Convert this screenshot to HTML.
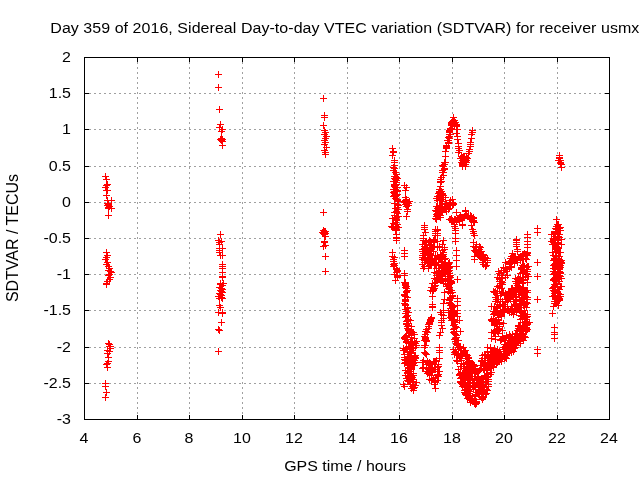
<!DOCTYPE html>
<html><head><meta charset="utf-8"><style>html,body{margin:0;padding:0;background:#fff;overflow:hidden}svg{display:block}</style></head>
<body><svg width="640" height="480" viewBox="0 0 640 480">
<rect width="640" height="480" fill="#fff"/>
<path d="M137.5 419V57M189.5 419V57M242.5 419V57M294.5 419V57M347.5 419V57M399.5 419V57M452.5 419V57M504.5 419V57M557.5 419V57M84 93.5H610M84 129.5H610M84 166.5H610M84 202.5H610M84 238.5H610M84 274.5H610M84 310.5H610M84 347.5H610M84 383.5H610" stroke="#a0a0a0" stroke-width="1" stroke-dasharray="2 3" fill="none" shape-rendering="crispEdges"/>
<path d="M84.5 420v-5M84.5 57v5M137.5 420v-5M137.5 57v5M189.5 420v-5M189.5 57v5M242.5 420v-5M242.5 57v5M294.5 420v-5M294.5 57v5M347.5 420v-5M347.5 57v5M399.5 420v-5M399.5 57v5M452.5 420v-5M452.5 57v5M504.5 420v-5M504.5 57v5M557.5 420v-5M557.5 57v5M609.5 420v-5M609.5 57v5M84 57.5h5M610 57.5h-5M84 93.5h5M610 93.5h-5M84 129.5h5M610 129.5h-5M84 166.5h5M610 166.5h-5M84 202.5h5M610 202.5h-5M84 238.5h5M610 238.5h-5M84 274.5h5M610 274.5h-5M84 310.5h5M610 310.5h-5M84 347.5h5M610 347.5h-5M84 383.5h5M610 383.5h-5M84 419.5h5M610 419.5h-5M84.5 57.5H609.5V419.5H84.5Z" stroke="#000" stroke-width="1" fill="none" shape-rendering="crispEdges"/>
<g font-family="'Liberation Sans', sans-serif" font-size="16" fill="#000" style="will-change:transform"><text transform="translate(71 62) scale(1 0.97)" text-anchor="end">2</text><text transform="translate(71 98) scale(1 0.97)" text-anchor="end">1.5</text><text transform="translate(71 134) scale(1 0.97)" text-anchor="end">1</text><text transform="translate(71 171) scale(1 0.97)" text-anchor="end">0.5</text><text transform="translate(71 207) scale(1 0.97)" text-anchor="end">0</text><text transform="translate(71 243) scale(1 0.97)" text-anchor="end">-0.5</text><text transform="translate(71 279) scale(1 0.97)" text-anchor="end">-1</text><text transform="translate(71 315) scale(1 0.97)" text-anchor="end">-1.5</text><text transform="translate(71 352) scale(1 0.97)" text-anchor="end">-2</text><text transform="translate(71 388) scale(1 0.97)" text-anchor="end">-2.5</text><text transform="translate(71 424) scale(1 0.97)" text-anchor="end">-3</text><text transform="translate(84 443) scale(1 0.97)" text-anchor="middle">4</text><text transform="translate(137 443) scale(1 0.97)" text-anchor="middle">6</text><text transform="translate(189 443) scale(1 0.97)" text-anchor="middle">8</text><text transform="translate(242 443) scale(1 0.97)" text-anchor="middle">10</text><text transform="translate(294 443) scale(1 0.97)" text-anchor="middle">12</text><text transform="translate(347 443) scale(1 0.97)" text-anchor="middle">14</text><text transform="translate(399 443) scale(1 0.97)" text-anchor="middle">16</text><text transform="translate(452 443) scale(1 0.97)" text-anchor="middle">18</text><text transform="translate(504 443) scale(1 0.97)" text-anchor="middle">20</text><text transform="translate(557 443) scale(1 0.97)" text-anchor="middle">22</text><text transform="translate(609 443) scale(1 0.97)" text-anchor="middle">24</text><text transform="translate(50.3 33) scale(1 0.97)" textLength="589" lengthAdjust="spacing">Day 359 of 2016, Sidereal Day-to-day VTEC variation (SDTVAR) for receiver usmx</text><text transform="translate(345 471) scale(1 0.97)" text-anchor="middle">GPS time / hours</text><text transform="translate(17.6 238.0) rotate(-90) scale(1 1.04)" text-anchor="middle" stroke="#fff" stroke-width="0">SDTVAR / TECUs</text></g>
<path d="M102 176.5h7M105.5 173v7M103 179.5h7M106.5 176v7M104 184.5h7M107.5 181v7M103 185.5h7M106.5 182v7M102 187.5h7M105.5 184v7M103 190.5h7M106.5 187v7M104 190.5h7M107.5 187v7M103 195.5h7M106.5 192v7M104 200.5h7M107.5 197v7M108 200.5h7M111.5 197v7M104 203.5h7M107.5 200v7M105 204.5h7M108.5 201v7M104 205.5h7M107.5 202v7M106 206.5h7M109.5 203v7M105 207.5h7M108.5 204v7M105 208.5h7M108.5 205v7M108 208.5h7M111.5 205v7M105 215.5h7M108.5 212v7M103 252.5h7M106.5 249v7M104 255.5h7M107.5 252v7M103 257.5h7M106.5 254v7M102 259.5h7M105.5 256v7M104 262.5h7M107.5 259v7M103 264.5h7M106.5 261v7M105 266.5h7M108.5 263v7M106 268.5h7M109.5 265v7M105 270.5h7M108.5 267v7M107 271.5h7M110.5 268v7M108 272.5h7M111.5 269v7M106 274.5h7M109.5 271v7M105 275.5h7M108.5 272v7M107 277.5h7M110.5 274v7M106 279.5h7M109.5 276v7M104 281.5h7M107.5 278v7M103 283.5h7M106.5 280v7M103 284.5h7M106.5 281v7M105 343.5h7M108.5 340v7M106 346.5h7M109.5 343v7M107 348.5h7M110.5 345v7M104 350.5h7M107.5 347v7M106 351.5h7M109.5 348v7M104 353.5h7M107.5 350v7M105 357.5h7M108.5 354v7M105 361.5h7M108.5 358v7M103 364.5h7M106.5 361v7M104 367.5h7M107.5 364v7M102 383.5h7M105.5 380v7M102 386.5h7M105.5 383v7M103 392.5h7M106.5 389v7M102 397.5h7M105.5 394v7M215 74.5h7M218.5 71v7M215 87.5h7M218.5 84v7M216 109.5h7M219.5 106v7M217 124.5h7M220.5 121v7M216 127.5h7M219.5 124v7M219 129.5h7M222.5 126v7M218 131.5h7M221.5 128v7M217 139.5h7M220.5 136v7M219 139.5h7M222.5 136v7M218 140.5h7M221.5 137v7M219 141.5h7M222.5 138v7M218 138.5h7M221.5 135v7M219 145.5h7M222.5 142v7M217 234.5h7M220.5 231v7M215 240.5h7M218.5 237v7M218 241.5h7M221.5 238v7M216 242.5h7M219.5 239v7M216 244.5h7M219.5 241v7M216 248.5h7M219.5 245v7M219 248.5h7M222.5 245v7M216 250.5h7M219.5 247v7M216 252.5h7M219.5 249v7M219 255.5h7M222.5 252v7M217 255.5h7M220.5 252v7M219 264.5h7M222.5 261v7M219 266.5h7M222.5 263v7M219 268.5h7M222.5 265v7M219 272.5h7M222.5 269v7M219 276.5h7M222.5 273v7M219 277.5h7M222.5 274v7M217 283.5h7M220.5 280v7M220 283.5h7M223.5 280v7M217 284.5h7M220.5 281v7M219 285.5h7M222.5 282v7M216 287.5h7M219.5 284v7M218 288.5h7M221.5 285v7M219 289.5h7M222.5 286v7M217 290.5h7M220.5 287v7M218 291.5h7M221.5 288v7M219 292.5h7M222.5 289v7M216 293.5h7M219.5 290v7M217 294.5h7M220.5 291v7M218 295.5h7M221.5 292v7M215 296.5h7M218.5 293v7M218 297.5h7M221.5 294v7M216 298.5h7M219.5 295v7M219 298.5h7M222.5 295v7M216 305.5h7M219.5 302v7M217 307.5h7M220.5 304v7M215 312.5h7M218.5 309v7M219 312.5h7M222.5 309v7M219 313.5h7M222.5 310v7M218 322.5h7M221.5 319v7M216 330.5h7M219.5 327v7M215 329.5h7M218.5 326v7M215 351.5h7M218.5 348v7M320 98.5h7M323.5 95v7M321 115.5h7M324.5 112v7M321 117.5h7M324.5 114v7M320 125.5h7M323.5 122v7M321 130.5h7M324.5 127v7M322 132.5h7M325.5 129v7M321 134.5h7M324.5 131v7M323 136.5h7M326.5 133v7M322 138.5h7M325.5 135v7M321 140.5h7M324.5 137v7M322 142.5h7M325.5 139v7M321 144.5h7M324.5 141v7M323 147.5h7M326.5 144v7M321 150.5h7M324.5 147v7M322 152.5h7M325.5 149v7M322 154.5h7M325.5 151v7M320 212.5h7M323.5 209v7M320 230.5h7M323.5 227v7M321 231.5h7M324.5 228v7M321 232.5h7M324.5 229v7M322 233.5h7M325.5 230v7M321 234.5h7M324.5 231v7M322 236.5h7M325.5 233v7M321 241.5h7M324.5 238v7M321 242.5h7M324.5 239v7M322 245.5h7M325.5 242v7M320 246.5h7M323.5 243v7M322 256.5h7M325.5 253v7M322 271.5h7M325.5 268v7M389 148.5h7M392.5 145v7M390 151.5h7M393.5 148v7M390 152.5h7M393.5 149v7M389 155.5h7M392.5 152v7M391 160.5h7M394.5 157v7M391 162.5h7M394.5 159v7M391 165.5h7M394.5 162v7M390 167.5h7M393.5 164v7M391 168.5h7M394.5 165v7M390 170.5h7M393.5 167v7M392 172.5h7M395.5 169v7M393 174.5h7M396.5 171v7M392 176.5h7M395.5 173v7M391 178.5h7M394.5 175v7M394 178.5h7M397.5 175v7M391 176.5h7M394.5 173v7M393 177.5h7M396.5 174v7M392 179.5h7M395.5 176v7M393 180.5h7M396.5 177v7M390 181.5h7M393.5 178v7M393 182.5h7M396.5 179v7M393 184.5h7M396.5 181v7M392 185.5h7M395.5 182v7M391 186.5h7M394.5 183v7M394 187.5h7M397.5 184v7M390 189.5h7M393.5 186v7M394 190.5h7M397.5 187v7M391 191.5h7M394.5 188v7M390 192.5h7M393.5 189v7M392 194.5h7M395.5 191v7M391 195.5h7M394.5 192v7M392 196.5h7M395.5 193v7M392 198.5h7M395.5 195v7M394 199.5h7M397.5 196v7M394 200.5h7M397.5 197v7M395 201.5h7M398.5 198v7M391 203.5h7M394.5 200v7M394 204.5h7M397.5 201v7M395 205.5h7M398.5 202v7M394 207.5h7M397.5 204v7M392 208.5h7M395.5 205v7M395 209.5h7M398.5 206v7M393 211.5h7M396.5 208v7M393 212.5h7M396.5 209v7M391 212.5h7M394.5 209v7M394 213.5h7M397.5 210v7M391 215.5h7M394.5 212v7M394 216.5h7M397.5 213v7M392 218.5h7M395.5 215v7M393 219.5h7M396.5 216v7M393 220.5h7M396.5 217v7M392 222.5h7M395.5 219v7M390 223.5h7M393.5 220v7M394 224.5h7M397.5 221v7M392 226.5h7M395.5 223v7M392 227.5h7M395.5 224v7M393 229.5h7M396.5 226v7M392 230.5h7M395.5 227v7M393 230.5h7M396.5 227v7M393 234.5h7M396.5 231v7M393 237.5h7M396.5 234v7M393 238.5h7M396.5 235v7M393 240.5h7M396.5 237v7M401 185.5h7M404.5 182v7M403 187.5h7M406.5 184v7M402 190.5h7M405.5 187v7M402 197.5h7M405.5 194v7M403 199.5h7M406.5 196v7M402 201.5h7M405.5 198v7M404 202.5h7M407.5 199v7M403 203.5h7M406.5 200v7M402 204.5h7M405.5 201v7M404 205.5h7M407.5 202v7M403 206.5h7M406.5 203v7M401 202.5h7M404.5 199v7M405 203.5h7M408.5 200v7M406 201.5h7M409.5 198v7M402 200.5h7M405.5 197v7M405 205.5h7M408.5 202v7M404 209.5h7M407.5 206v7M404 211.5h7M407.5 208v7M403 216.5h7M406.5 213v7M389 252.5h7M392.5 249v7M389 256.5h7M392.5 253v7M391 257.5h7M394.5 254v7M390 259.5h7M393.5 256v7M390 261.5h7M393.5 258v7M391 263.5h7M394.5 260v7M390 264.5h7M393.5 261v7M391 265.5h7M394.5 262v7M390 266.5h7M393.5 263v7M393 268.5h7M396.5 265v7M393 269.5h7M396.5 266v7M394 270.5h7M397.5 267v7M394 271.5h7M397.5 268v7M393 272.5h7M396.5 269v7M391 274.5h7M394.5 271v7M394 275.5h7M397.5 272v7M394 276.5h7M397.5 273v7M394 277.5h7M397.5 274v7M392 280.5h7M395.5 277v7M401 250.5h7M404.5 247v7M401 253.5h7M404.5 250v7M401 256.5h7M404.5 253v7M401 273.5h7M404.5 270v7M401 275.5h7M404.5 272v7M402 282.5h7M405.5 279v7M402 284.5h7M405.5 281v7M450 117.5h7M453.5 114v7M449 121.5h7M452.5 118v7M451 123.5h7M454.5 120v7M451 122.5h7M454.5 119v7M448 123.5h7M451.5 120v7M453 124.5h7M456.5 121v7M453 125.5h7M456.5 122v7M449 125.5h7M452.5 122v7M448 123.5h7M451.5 120v7M448 122.5h7M451.5 119v7M452 122.5h7M455.5 119v7M449 122.5h7M452.5 119v7M450 120.5h7M453.5 117v7M448 125.5h7M451.5 122v7M451 120.5h7M454.5 117v7M451 125.5h7M454.5 122v7M448 124.5h7M451.5 121v7M448 124.5h7M451.5 121v7M452 122.5h7M455.5 119v7M447 128.5h7M450.5 125v7M446 130.5h7M449.5 127v7M446 132.5h7M449.5 129v7M446 134.5h7M449.5 131v7M445 137.5h7M448.5 134v7M444 140.5h7M447.5 137v7M445 143.5h7M448.5 140v7M443 146.5h7M446.5 143v7M443 148.5h7M446.5 145v7M442 151.5h7M445.5 148v7M453 126.5h7M456.5 123v7M454 129.5h7M457.5 126v7M453 133.5h7M456.5 130v7M454 136.5h7M457.5 133v7M454 139.5h7M457.5 136v7M455 143.5h7M458.5 140v7M455 146.5h7M458.5 143v7M455 148.5h7M458.5 145v7M456 150.5h7M459.5 147v7M469 130.5h7M472.5 127v7M469 132.5h7M472.5 129v7M468 134.5h7M471.5 131v7M468 138.5h7M471.5 135v7M467 142.5h7M470.5 139v7M467 144.5h7M470.5 141v7M467 146.5h7M470.5 143v7M466 149.5h7M469.5 146v7M466 151.5h7M469.5 148v7M442 156.5h7M445.5 153v7M442 162.5h7M445.5 159v7M441 164.5h7M444.5 161v7M440 166.5h7M443.5 163v7M441 168.5h7M444.5 165v7M439 170.5h7M442.5 167v7M440 172.5h7M443.5 169v7M438 177.5h7M441.5 174v7M437 181.5h7M440.5 178v7M437 186.5h7M440.5 183v7M436 189.5h7M439.5 186v7M437 191.5h7M440.5 188v7M435 193.5h7M438.5 190v7M438 194.5h7M441.5 191v7M436 195.5h7M439.5 192v7M434 196.5h7M437.5 193v7M437 197.5h7M440.5 194v7M433 198.5h7M436.5 195v7M463 160.5h7M466.5 157v7M459 162.5h7M462.5 159v7M460 161.5h7M463.5 158v7M459 162.5h7M462.5 159v7M457 158.5h7M460.5 155v7M459 164.5h7M462.5 161v7M459 165.5h7M462.5 162v7M462 159.5h7M465.5 156v7M461 156.5h7M464.5 153v7M462 160.5h7M465.5 157v7M460 158.5h7M463.5 155v7M458 162.5h7M461.5 159v7M460 156.5h7M463.5 153v7M458 162.5h7M461.5 159v7M459 160.5h7M462.5 157v7M459 164.5h7M462.5 161v7M458 158.5h7M461.5 155v7M459 157.5h7M462.5 154v7M462 164.5h7M465.5 161v7M464 158.5h7M467.5 155v7M463 162.5h7M466.5 159v7M459 163.5h7M462.5 160v7M458 156.5h7M461.5 153v7M463 157.5h7M466.5 154v7M462 161.5h7M465.5 158v7M463 158.5h7M466.5 155v7M459 157.5h7M462.5 154v7M456 150.5h7M459.5 147v7M466 151.5h7M469.5 148v7M462 166.5h7M465.5 163v7M459 166.5h7M462.5 163v7M455 152.5h7M458.5 149v7M465 153.5h7M468.5 150v7M438 177.5h7M441.5 174v7M438 181.5h7M441.5 178v7M437 186.5h7M440.5 183v7M437 189.5h7M440.5 186v7M438 191.5h7M441.5 188v7M439 193.5h7M442.5 190v7M440 195.5h7M443.5 192v7M434 208.5h7M437.5 205v7M432 218.5h7M435.5 215v7M437 210.5h7M440.5 207v7M446 202.5h7M449.5 199v7M442 197.5h7M445.5 194v7M449 205.5h7M452.5 202v7M436 215.5h7M439.5 212v7M433 218.5h7M436.5 215v7M450 203.5h7M453.5 200v7M436 214.5h7M439.5 211v7M433 219.5h7M436.5 216v7M436 205.5h7M439.5 202v7M433 211.5h7M436.5 208v7M442 204.5h7M445.5 201v7M437 192.5h7M440.5 189v7M435 210.5h7M438.5 207v7M436 207.5h7M439.5 204v7M437 198.5h7M440.5 195v7M450 204.5h7M453.5 201v7M443 211.5h7M446.5 208v7M449 202.5h7M452.5 199v7M437 200.5h7M440.5 197v7M437 217.5h7M440.5 214v7M437 207.5h7M440.5 204v7M442 209.5h7M445.5 206v7M436 192.5h7M439.5 189v7M432 210.5h7M435.5 207v7M437 215.5h7M440.5 212v7M434 206.5h7M437.5 203v7M447 200.5h7M450.5 197v7M433 206.5h7M436.5 203v7M439 195.5h7M442.5 192v7M436 192.5h7M439.5 189v7M441 207.5h7M444.5 204v7M447 205.5h7M450.5 202v7M439 201.5h7M442.5 198v7M436 191.5h7M439.5 188v7M443 203.5h7M446.5 200v7M438 194.5h7M441.5 191v7M447 203.5h7M450.5 200v7M439 210.5h7M442.5 207v7M441 206.5h7M444.5 203v7M443 204.5h7M446.5 201v7M436 206.5h7M439.5 203v7M440 197.5h7M443.5 194v7M439 208.5h7M442.5 205v7M436 211.5h7M439.5 208v7M434 215.5h7M437.5 212v7M438 212.5h7M441.5 209v7M445 209.5h7M448.5 206v7M434 198.5h7M437.5 195v7M435 208.5h7M438.5 205v7M438 206.5h7M441.5 203v7M434 213.5h7M437.5 210v7M446 204.5h7M449.5 201v7M434 200.5h7M437.5 197v7M433 219.5h7M436.5 216v7M442 203.5h7M445.5 200v7M436 214.5h7M439.5 211v7M443 209.5h7M446.5 206v7M436 207.5h7M439.5 204v7M436 209.5h7M439.5 206v7M436 212.5h7M439.5 209v7M446 208.5h7M449.5 205v7M438 199.5h7M441.5 196v7M433 216.5h7M436.5 213v7M433 214.5h7M436.5 211v7M434 206.5h7M437.5 203v7M449 199.5h7M452.5 196v7M446 219.5h7M449.5 216v7M447 219.5h7M450.5 216v7M448 218.5h7M451.5 215v7M448 220.5h7M451.5 217v7M449 220.5h7M452.5 217v7M450 221.5h7M453.5 218v7M450 221.5h7M453.5 218v7M451 219.5h7M454.5 216v7M452 219.5h7M455.5 216v7M453 221.5h7M456.5 218v7M454 219.5h7M457.5 216v7M455 219.5h7M458.5 216v7M455 218.5h7M458.5 215v7M456 221.5h7M459.5 218v7M456 217.5h7M459.5 214v7M457 218.5h7M460.5 215v7M457 215.5h7M460.5 212v7M458 217.5h7M461.5 214v7M459 218.5h7M462.5 215v7M460 217.5h7M463.5 214v7M461 217.5h7M464.5 214v7M461 216.5h7M464.5 213v7M462 215.5h7M465.5 212v7M462 214.5h7M465.5 211v7M463 215.5h7M466.5 212v7M464 216.5h7M467.5 213v7M464 216.5h7M467.5 213v7M465 216.5h7M468.5 213v7M465 215.5h7M468.5 212v7M466 218.5h7M469.5 215v7M467 215.5h7M470.5 212v7M468 217.5h7M471.5 214v7M468 216.5h7M471.5 213v7M468 219.5h7M471.5 216v7M469 218.5h7M472.5 215v7M470 217.5h7M473.5 214v7M470 222.5h7M473.5 219v7M470 220.5h7M473.5 217v7M471 222.5h7M474.5 219v7M471 222.5h7M474.5 219v7M462 210.5h7M465.5 207v7M459 225.5h7M462.5 222v7M448 219.5h7M451.5 216v7M462 211.5h7M465.5 208v7M453 212.5h7M456.5 209v7M451 224.5h7M454.5 221v7M459 224.5h7M462.5 221v7M451 226.5h7M454.5 223v7M452 228.5h7M455.5 225v7M452 230.5h7M455.5 227v7M452 233.5h7M455.5 230v7M452 238.5h7M455.5 235v7M452 241.5h7M455.5 238v7M470 218.5h7M473.5 215v7M470 221.5h7M473.5 218v7M468 225.5h7M471.5 222v7M434 229.5h7M437.5 226v7M434 230.5h7M437.5 227v7M434 233.5h7M437.5 230v7M434 235.5h7M437.5 232v7M440 240.5h7M443.5 237v7M421 225.5h7M424.5 222v7M421 227.5h7M424.5 224v7M421 229.5h7M424.5 226v7M422 232.5h7M425.5 229v7M420 235.5h7M423.5 232v7M420 238.5h7M423.5 235v7M420 240.5h7M423.5 237v7M432 229.5h7M435.5 226v7M432 231.5h7M435.5 228v7M432 233.5h7M435.5 230v7M432 235.5h7M435.5 232v7M434 229.5h7M437.5 226v7M420 240.5h7M423.5 237v7M422 242.5h7M425.5 239v7M419 244.5h7M422.5 241v7M421 246.5h7M424.5 243v7M420 249.5h7M423.5 246v7M419 251.5h7M422.5 248v7M421 253.5h7M424.5 250v7M419 255.5h7M422.5 252v7M419 257.5h7M422.5 254v7M419 259.5h7M422.5 256v7M421 262.5h7M424.5 259v7M419 264.5h7M422.5 261v7M421 266.5h7M424.5 263v7M420 268.5h7M423.5 265v7M424 250.5h7M427.5 247v7M425 253.5h7M428.5 250v7M425 255.5h7M428.5 252v7M426 258.5h7M429.5 255v7M425 260.5h7M428.5 257v7M426 263.5h7M429.5 260v7M426 265.5h7M429.5 262v7M425 268.5h7M428.5 265v7M427 245.5h7M430.5 242v7M426 242.5h7M429.5 239v7M421 258.5h7M424.5 255v7M424 259.5h7M427.5 256v7M422 258.5h7M425.5 255v7M429 247.5h7M432.5 244v7M420 249.5h7M423.5 246v7M426 241.5h7M429.5 238v7M427 263.5h7M430.5 260v7M429 261.5h7M432.5 258v7M432 255.5h7M435.5 252v7M424 261.5h7M427.5 258v7M421 257.5h7M424.5 254v7M420 249.5h7M423.5 246v7M426 249.5h7M429.5 246v7M421 244.5h7M424.5 241v7M430 251.5h7M433.5 248v7M427 244.5h7M430.5 241v7M429 247.5h7M432.5 244v7M427 263.5h7M430.5 260v7M430 262.5h7M433.5 259v7M423 249.5h7M426.5 246v7M427 264.5h7M430.5 261v7M425 263.5h7M428.5 260v7M430 242.5h7M433.5 239v7M421 257.5h7M424.5 254v7M420 249.5h7M423.5 246v7M421 251.5h7M424.5 248v7M431 263.5h7M434.5 260v7M431 239.5h7M434.5 236v7M423 241.5h7M426.5 238v7M428 259.5h7M431.5 256v7M429 262.5h7M432.5 259v7M428 249.5h7M431.5 246v7M428 265.5h7M431.5 262v7M428 245.5h7M431.5 242v7M427 248.5h7M430.5 245v7M427 254.5h7M430.5 251v7M426 240.5h7M429.5 237v7M424 250.5h7M427.5 247v7M425 257.5h7M428.5 254v7M429 259.5h7M432.5 256v7M429 259.5h7M432.5 256v7M431 262.5h7M434.5 259v7M430 251.5h7M433.5 248v7M420 253.5h7M423.5 250v7M425 242.5h7M428.5 239v7M425 258.5h7M428.5 255v7M426 241.5h7M429.5 238v7M430 240.5h7M433.5 237v7M419 249.5h7M422.5 246v7M429 247.5h7M432.5 244v7M421 260.5h7M424.5 257v7M430 262.5h7M433.5 259v7M423 250.5h7M426.5 247v7M422 254.5h7M425.5 251v7M424 247.5h7M427.5 244v7M427 241.5h7M430.5 238v7M428 251.5h7M431.5 248v7M433 258.5h7M436.5 255v7M431 258.5h7M434.5 255v7M426 263.5h7M429.5 260v7M431 246.5h7M434.5 243v7M421 248.5h7M424.5 245v7M426 241.5h7M429.5 238v7M424 254.5h7M427.5 251v7M428 247.5h7M431.5 244v7M423 248.5h7M426.5 245v7M424 259.5h7M427.5 256v7M426 253.5h7M429.5 250v7M424 247.5h7M427.5 244v7M434 255.5h7M437.5 252v7M437 254.5h7M440.5 251v7M440 254.5h7M443.5 251v7M440 254.5h7M443.5 251v7M440 252.5h7M443.5 249v7M434 247.5h7M437.5 244v7M438 255.5h7M441.5 252v7M439 250.5h7M442.5 247v7M439 244.5h7M442.5 241v7M441 249.5h7M444.5 246v7M436 246.5h7M439.5 243v7M441 247.5h7M444.5 244v7M434 241.5h7M437.5 238v7M442 273.5h7M445.5 270v7M437 278.5h7M440.5 275v7M439 264.5h7M442.5 261v7M432 263.5h7M435.5 260v7M441 272.5h7M444.5 269v7M444 276.5h7M447.5 273v7M444 278.5h7M447.5 275v7M440 283.5h7M443.5 280v7M441 272.5h7M444.5 269v7M446 281.5h7M449.5 278v7M442 281.5h7M445.5 278v7M433 279.5h7M436.5 276v7M443 271.5h7M446.5 268v7M438 268.5h7M441.5 265v7M445 280.5h7M448.5 277v7M440 256.5h7M443.5 253v7M444 270.5h7M447.5 267v7M433 265.5h7M436.5 262v7M432 265.5h7M435.5 262v7M445 279.5h7M448.5 276v7M440 273.5h7M443.5 270v7M439 272.5h7M442.5 269v7M444 286.5h7M447.5 283v7M437 275.5h7M440.5 272v7M435 265.5h7M438.5 262v7M439 274.5h7M442.5 271v7M433 275.5h7M436.5 272v7M440 267.5h7M443.5 264v7M445 276.5h7M448.5 273v7M445 285.5h7M448.5 282v7M444 267.5h7M447.5 264v7M438 280.5h7M441.5 277v7M436 279.5h7M439.5 276v7M438 266.5h7M441.5 263v7M438 259.5h7M441.5 256v7M436 268.5h7M439.5 265v7M440 264.5h7M443.5 261v7M439 279.5h7M442.5 276v7M442 269.5h7M445.5 266v7M443 271.5h7M446.5 268v7M442 271.5h7M445.5 268v7M437 278.5h7M440.5 275v7M439 272.5h7M442.5 269v7M439 268.5h7M442.5 265v7M441 259.5h7M444.5 256v7M435 264.5h7M438.5 261v7M438 280.5h7M441.5 277v7M445 280.5h7M448.5 277v7M442 258.5h7M445.5 255v7M437 276.5h7M440.5 273v7M435 271.5h7M438.5 268v7M433 272.5h7M436.5 269v7M439 262.5h7M442.5 259v7M443 266.5h7M446.5 263v7M435 272.5h7M438.5 269v7M437 279.5h7M440.5 276v7M435 278.5h7M438.5 275v7M437 259.5h7M440.5 256v7M433 273.5h7M436.5 270v7M439 274.5h7M442.5 271v7M433 268.5h7M436.5 265v7M435 277.5h7M438.5 274v7M435 262.5h7M438.5 259v7M436 270.5h7M439.5 267v7M436 274.5h7M439.5 271v7M442 272.5h7M445.5 269v7M431 265.5h7M434.5 262v7M442 276.5h7M445.5 273v7M444 284.5h7M447.5 281v7M435 271.5h7M438.5 268v7M436 259.5h7M439.5 256v7M432 263.5h7M435.5 260v7M431 272.5h7M434.5 269v7M442 273.5h7M445.5 270v7M442 262.5h7M445.5 259v7M433 273.5h7M436.5 270v7M435 275.5h7M438.5 272v7M436 274.5h7M439.5 271v7M439 256.5h7M442.5 253v7M436 259.5h7M439.5 256v7M434 280.5h7M437.5 277v7M431 278.5h7M434.5 275v7M432 265.5h7M435.5 262v7M435 257.5h7M438.5 254v7M441 263.5h7M444.5 260v7M442 264.5h7M445.5 261v7M431 283.5h7M434.5 280v7M432 285.5h7M435.5 282v7M431 286.5h7M434.5 283v7M431 288.5h7M434.5 285v7M430 290.5h7M433.5 287v7M429 291.5h7M432.5 288v7M429 296.5h7M432.5 293v7M429 304.5h7M432.5 301v7M429 307.5h7M432.5 304v7M441 292.5h7M444.5 289v7M441 299.5h7M444.5 296v7M440 303.5h7M443.5 300v7M440 310.5h7M443.5 307v7M446 262.5h7M449.5 259v7M445 263.5h7M448.5 260v7M445 264.5h7M448.5 261v7M447 266.5h7M450.5 263v7M446 267.5h7M449.5 264v7M445 268.5h7M448.5 265v7M444 269.5h7M447.5 266v7M446 270.5h7M449.5 267v7M445 271.5h7M448.5 268v7M446 273.5h7M449.5 270v7M444 274.5h7M447.5 271v7M447 275.5h7M450.5 272v7M446 276.5h7M449.5 273v7M447 277.5h7M450.5 274v7M444 278.5h7M447.5 275v7M447 280.5h7M450.5 277v7M448 281.5h7M451.5 278v7M448 282.5h7M451.5 279v7M448 283.5h7M451.5 280v7M446 284.5h7M449.5 281v7M445 285.5h7M448.5 282v7M446 287.5h7M449.5 284v7M445 288.5h7M448.5 285v7M446 289.5h7M449.5 286v7M448 290.5h7M451.5 287v7M445 291.5h7M448.5 288v7M449 292.5h7M452.5 289v7M447 293.5h7M450.5 290v7M449 295.5h7M452.5 292v7M449 296.5h7M452.5 293v7M447 297.5h7M450.5 294v7M447 298.5h7M450.5 295v7M446 299.5h7M449.5 296v7M446 300.5h7M449.5 297v7M446 302.5h7M449.5 299v7M446 303.5h7M449.5 300v7M448 304.5h7M451.5 301v7M447 305.5h7M450.5 302v7M450 306.5h7M453.5 303v7M449 307.5h7M452.5 304v7M447 308.5h7M450.5 305v7M447 310.5h7M450.5 307v7M448 311.5h7M451.5 308v7M450 312.5h7M453.5 309v7M448 313.5h7M451.5 310v7M448 314.5h7M451.5 311v7M451 315.5h7M454.5 312v7M447 317.5h7M450.5 314v7M448 318.5h7M451.5 315v7M450 319.5h7M453.5 316v7M449 320.5h7M452.5 317v7M454 279.5h7M457.5 276v7M454 298.5h7M457.5 295v7M454 301.5h7M457.5 298v7M454 305.5h7M457.5 302v7M454 310.5h7M457.5 307v7M454 313.5h7M457.5 310v7M454 316.5h7M457.5 313v7M453 250.5h7M456.5 247v7M453 255.5h7M456.5 252v7M453 260.5h7M456.5 257v7M453 266.5h7M456.5 263v7M469 229.5h7M472.5 226v7M470 231.5h7M473.5 228v7M470 233.5h7M473.5 230v7M471 235.5h7M474.5 232v7M470 242.5h7M473.5 239v7M470 246.5h7M473.5 243v7M471 250.5h7M474.5 247v7M471 256.5h7M474.5 253v7M471 259.5h7M474.5 256v7M481 258.5h7M484.5 255v7M480 264.5h7M483.5 261v7M478 251.5h7M481.5 248v7M472 251.5h7M475.5 248v7M478 254.5h7M481.5 251v7M482 260.5h7M485.5 257v7M474 253.5h7M477.5 250v7M479 256.5h7M482.5 253v7M484 262.5h7M487.5 259v7M473 252.5h7M476.5 249v7M473 244.5h7M476.5 241v7M472 247.5h7M475.5 244v7M482 258.5h7M485.5 255v7M483 265.5h7M486.5 262v7M480 260.5h7M483.5 257v7M482 266.5h7M485.5 263v7M484 258.5h7M487.5 255v7M476 249.5h7M479.5 246v7M482 265.5h7M485.5 262v7M479 255.5h7M482.5 252v7M484 260.5h7M487.5 257v7M481 259.5h7M484.5 256v7M480 255.5h7M483.5 252v7M476 256.5h7M479.5 253v7M480 254.5h7M483.5 251v7M475 249.5h7M478.5 246v7M477 257.5h7M480.5 254v7M475 255.5h7M478.5 252v7M477 255.5h7M480.5 252v7M477 247.5h7M480.5 244v7M477 252.5h7M480.5 249v7M476 246.5h7M479.5 243v7M479 262.5h7M482.5 259v7M482 257.5h7M485.5 254v7M473 249.5h7M476.5 246v7M476 249.5h7M479.5 246v7M473 249.5h7M476.5 246v7M401 282.5h7M404.5 279v7M402 283.5h7M405.5 280v7M402 285.5h7M405.5 282v7M403 286.5h7M406.5 283v7M402 287.5h7M405.5 284v7M403 288.5h7M406.5 285v7M404 290.5h7M407.5 287v7M403 291.5h7M406.5 288v7M403 292.5h7M406.5 289v7M401 294.5h7M404.5 291v7M401 295.5h7M404.5 292v7M402 296.5h7M405.5 293v7M404 297.5h7M407.5 294v7M402 299.5h7M405.5 296v7M402 300.5h7M405.5 297v7M402 301.5h7M405.5 298v7M401 303.5h7M404.5 300v7M402 304.5h7M405.5 301v7M402 305.5h7M405.5 302v7M404 307.5h7M407.5 304v7M404 308.5h7M407.5 305v7M402 309.5h7M405.5 306v7M403 311.5h7M406.5 308v7M405 312.5h7M408.5 309v7M402 313.5h7M405.5 310v7M404 315.5h7M407.5 312v7M403 316.5h7M406.5 313v7M402 317.5h7M405.5 314v7M405 319.5h7M408.5 316v7M404 320.5h7M407.5 317v7M403 321.5h7M406.5 318v7M403 323.5h7M406.5 320v7M403 324.5h7M406.5 321v7M405 325.5h7M408.5 322v7M404 326.5h7M407.5 323v7M404 328.5h7M407.5 325v7M405 329.5h7M408.5 326v7M405 330.5h7M408.5 327v7M407 332.5h7M410.5 329v7M405 333.5h7M408.5 330v7M405 346.5h7M408.5 343v7M402 362.5h7M405.5 359v7M406 333.5h7M409.5 330v7M403 378.5h7M406.5 375v7M407 384.5h7M410.5 381v7M409 332.5h7M412.5 329v7M405 356.5h7M408.5 353v7M402 360.5h7M405.5 357v7M407 341.5h7M410.5 338v7M405 381.5h7M408.5 378v7M406 378.5h7M409.5 375v7M402 339.5h7M405.5 336v7M412 347.5h7M415.5 344v7M410 379.5h7M413.5 376v7M408 353.5h7M411.5 350v7M412 357.5h7M415.5 354v7M412 362.5h7M415.5 359v7M412 358.5h7M415.5 355v7M406 364.5h7M409.5 361v7M404 339.5h7M407.5 336v7M408 379.5h7M411.5 376v7M404 380.5h7M407.5 377v7M410 375.5h7M413.5 372v7M410 363.5h7M413.5 360v7M401 363.5h7M404.5 360v7M404 351.5h7M407.5 348v7M407 367.5h7M410.5 364v7M408 358.5h7M411.5 355v7M408 379.5h7M411.5 376v7M406 359.5h7M409.5 356v7M402 349.5h7M405.5 346v7M402 336.5h7M405.5 333v7M404 360.5h7M407.5 357v7M411 365.5h7M414.5 362v7M408 378.5h7M411.5 375v7M407 363.5h7M410.5 360v7M408 334.5h7M411.5 331v7M403 335.5h7M406.5 332v7M404 372.5h7M407.5 369v7M403 342.5h7M406.5 339v7M404 358.5h7M407.5 355v7M410 347.5h7M413.5 344v7M411 334.5h7M414.5 331v7M411 338.5h7M414.5 335v7M406 351.5h7M409.5 348v7M410 332.5h7M413.5 329v7M404 373.5h7M407.5 370v7M408 368.5h7M411.5 365v7M411 355.5h7M414.5 352v7M413 341.5h7M416.5 338v7M401 338.5h7M404.5 335v7M408 337.5h7M411.5 334v7M403 341.5h7M406.5 338v7M409 343.5h7M412.5 340v7M403 362.5h7M406.5 359v7M403 347.5h7M406.5 344v7M406 352.5h7M409.5 349v7M405 368.5h7M408.5 365v7M403 341.5h7M406.5 338v7M409 347.5h7M412.5 344v7M412 355.5h7M415.5 352v7M406 331.5h7M409.5 328v7M408 369.5h7M411.5 366v7M412 355.5h7M415.5 352v7M409 350.5h7M412.5 347v7M401 354.5h7M404.5 351v7M409 377.5h7M412.5 374v7M407 362.5h7M410.5 359v7M407 358.5h7M410.5 355v7M409 363.5h7M412.5 360v7M411 356.5h7M414.5 353v7M406 378.5h7M409.5 375v7M409 360.5h7M412.5 357v7M407 377.5h7M410.5 374v7M408 345.5h7M411.5 342v7M404 365.5h7M407.5 362v7M401 357.5h7M404.5 354v7M412 343.5h7M415.5 340v7M406 371.5h7M409.5 368v7M408 352.5h7M411.5 349v7M406 367.5h7M409.5 364v7M405 376.5h7M408.5 373v7M410 348.5h7M413.5 345v7M400 350.5h7M403.5 347v7M408 376.5h7M411.5 373v7M411 342.5h7M414.5 339v7M401 337.5h7M404.5 334v7M402 370.5h7M405.5 367v7M409 341.5h7M412.5 338v7M410 359.5h7M413.5 356v7M407 351.5h7M410.5 348v7M404 354.5h7M407.5 351v7M407 357.5h7M410.5 354v7M408 366.5h7M411.5 363v7M408 344.5h7M411.5 341v7M405 342.5h7M408.5 339v7M410 381.5h7M413.5 378v7M404 359.5h7M407.5 356v7M409 332.5h7M412.5 329v7M405 362.5h7M408.5 359v7M411 360.5h7M414.5 357v7M404 365.5h7M407.5 362v7M408 347.5h7M411.5 344v7M407 346.5h7M410.5 343v7M400 348.5h7M403.5 345v7M401 359.5h7M404.5 356v7M407 380.5h7M410.5 377v7M410 373.5h7M413.5 370v7M413 345.5h7M416.5 342v7M405 343.5h7M408.5 340v7M410 390.5h7M413.5 387v7M401 386.5h7M404.5 383v7M402 375.5h7M405.5 372v7M407 320.5h7M410.5 317v7M408 326.5h7M411.5 323v7M437 312.5h7M440.5 309v7M440 312.5h7M443.5 309v7M440 315.5h7M443.5 312v7M440 318.5h7M443.5 315v7M438 320.5h7M441.5 317v7M438 322.5h7M441.5 319v7M438 325.5h7M441.5 322v7M439 328.5h7M442.5 325v7M437 332.5h7M440.5 329v7M436 335.5h7M439.5 332v7M436 347.5h7M439.5 344v7M436 350.5h7M439.5 347v7M436 352.5h7M439.5 349v7M436 358.5h7M439.5 355v7M422 345.5h7M425.5 342v7M422 353.5h7M425.5 350v7M419 362.5h7M422.5 359v7M419 368.5h7M422.5 365v7M432 388.5h7M435.5 385v7M424 371.5h7M427.5 368v7M430 361.5h7M433.5 358v7M423 371.5h7M426.5 368v7M426 365.5h7M429.5 362v7M431 364.5h7M434.5 361v7M426 363.5h7M429.5 360v7M435 364.5h7M438.5 361v7M431 369.5h7M434.5 366v7M428 368.5h7M431.5 365v7M432 377.5h7M435.5 374v7M426 362.5h7M429.5 359v7M434 380.5h7M437.5 377v7M427 367.5h7M430.5 364v7M431 369.5h7M434.5 366v7M434 375.5h7M437.5 372v7M425 363.5h7M428.5 360v7M433 361.5h7M436.5 358v7M426 365.5h7M429.5 362v7M427 369.5h7M430.5 366v7M427 363.5h7M430.5 360v7M428 369.5h7M431.5 366v7M435 374.5h7M438.5 371v7M432 380.5h7M435.5 377v7M428 369.5h7M431.5 366v7M426 379.5h7M429.5 376v7M431 361.5h7M434.5 358v7M435 371.5h7M438.5 368v7M434 367.5h7M437.5 364v7M429 367.5h7M432.5 364v7M429 370.5h7M432.5 367v7M425 372.5h7M428.5 369v7M435 376.5h7M438.5 373v7M425 369.5h7M428.5 366v7M432 361.5h7M435.5 358v7M424 373.5h7M427.5 370v7M426 374.5h7M429.5 371v7M427 369.5h7M430.5 366v7M431 380.5h7M434.5 377v7M433 360.5h7M436.5 357v7M426 371.5h7M429.5 368v7M426 367.5h7M429.5 364v7M436 371.5h7M439.5 368v7M434 374.5h7M437.5 371v7M432 367.5h7M435.5 364v7M432 382.5h7M435.5 379v7M426 364.5h7M429.5 361v7M435 366.5h7M438.5 363v7M429 367.5h7M432.5 364v7M424 361.5h7M427.5 358v7M428 380.5h7M431.5 377v7M425 364.5h7M428.5 361v7M427 371.5h7M430.5 368v7M436 371.5h7M439.5 368v7M451 310.5h7M454.5 307v7M449 311.5h7M452.5 308v7M450 312.5h7M453.5 309v7M449 314.5h7M452.5 311v7M449 315.5h7M452.5 312v7M448 316.5h7M451.5 313v7M448 318.5h7M451.5 315v7M449 319.5h7M452.5 316v7M448 320.5h7M451.5 317v7M451 321.5h7M454.5 318v7M452 322.5h7M455.5 319v7M451 324.5h7M454.5 321v7M450 325.5h7M453.5 322v7M452 326.5h7M455.5 323v7M453 327.5h7M456.5 324v7M451 328.5h7M454.5 325v7M450 329.5h7M453.5 326v7M451 331.5h7M454.5 328v7M450 332.5h7M453.5 329v7M451 333.5h7M454.5 330v7M452 334.5h7M455.5 331v7M453 335.5h7M456.5 332v7M453 337.5h7M456.5 334v7M452 338.5h7M455.5 335v7M451 339.5h7M454.5 336v7M455 340.5h7M458.5 337v7M452 341.5h7M455.5 338v7M453 343.5h7M456.5 340v7M453 344.5h7M456.5 341v7M454 345.5h7M457.5 342v7M456 320.5h7M459.5 317v7M457 331.5h7M460.5 328v7M453 313.5h7M456.5 310v7M445 312.5h7M448.5 309v7M458 383.5h7M461.5 380v7M459 384.5h7M462.5 381v7M465 380.5h7M468.5 377v7M467 386.5h7M470.5 383v7M458 366.5h7M461.5 363v7M461 376.5h7M464.5 373v7M465 397.5h7M468.5 394v7M460 372.5h7M463.5 369v7M473 403.5h7M476.5 400v7M466 387.5h7M469.5 384v7M476 393.5h7M479.5 390v7M465 375.5h7M468.5 372v7M465 390.5h7M468.5 387v7M473 371.5h7M476.5 368v7M469 385.5h7M472.5 382v7M458 350.5h7M461.5 347v7M471 366.5h7M474.5 363v7M473 402.5h7M476.5 399v7M468 376.5h7M471.5 373v7M467 363.5h7M470.5 360v7M465 371.5h7M468.5 368v7M462 378.5h7M465.5 375v7M477 381.5h7M480.5 378v7M460 384.5h7M463.5 381v7M470 382.5h7M473.5 379v7M462 394.5h7M465.5 391v7M462 356.5h7M465.5 353v7M471 378.5h7M474.5 375v7M474 371.5h7M477.5 368v7M464 355.5h7M467.5 352v7M465 371.5h7M468.5 368v7M475 389.5h7M478.5 386v7M463 354.5h7M466.5 351v7M452 351.5h7M455.5 348v7M460 364.5h7M463.5 361v7M457 346.5h7M460.5 343v7M463 372.5h7M466.5 369v7M466 364.5h7M469.5 361v7M463 372.5h7M466.5 369v7M462 377.5h7M465.5 374v7M465 364.5h7M468.5 361v7M473 402.5h7M476.5 399v7M465 383.5h7M468.5 380v7M470 364.5h7M473.5 361v7M466 373.5h7M469.5 370v7M463 369.5h7M466.5 366v7M465 358.5h7M468.5 355v7M456 357.5h7M459.5 354v7M466 360.5h7M469.5 357v7M472 399.5h7M475.5 396v7M471 365.5h7M474.5 362v7M459 381.5h7M462.5 378v7M468 370.5h7M471.5 367v7M472 396.5h7M475.5 393v7M457 358.5h7M460.5 355v7M461 387.5h7M464.5 384v7M477 381.5h7M480.5 378v7M472 395.5h7M475.5 392v7M455 349.5h7M458.5 346v7M467 368.5h7M470.5 365v7M462 393.5h7M465.5 390v7M462 378.5h7M465.5 375v7M467 387.5h7M470.5 384v7M455 355.5h7M458.5 352v7M472 387.5h7M475.5 384v7M458 353.5h7M461.5 350v7M459 355.5h7M462.5 352v7M456 375.5h7M459.5 372v7M459 353.5h7M462.5 350v7M464 398.5h7M467.5 395v7M472 394.5h7M475.5 391v7M461 351.5h7M464.5 348v7M464 384.5h7M467.5 381v7M460 366.5h7M463.5 363v7M471 370.5h7M474.5 367v7M460 378.5h7M463.5 375v7M455 349.5h7M458.5 346v7M456 346.5h7M459.5 343v7M468 372.5h7M471.5 369v7M467 379.5h7M470.5 376v7M461 392.5h7M464.5 389v7M469 385.5h7M472.5 382v7M475 392.5h7M478.5 389v7M462 386.5h7M465.5 383v7M464 380.5h7M467.5 377v7M462 354.5h7M465.5 351v7M457 373.5h7M460.5 370v7M450 349.5h7M453.5 346v7M472 404.5h7M475.5 401v7M461 373.5h7M464.5 370v7M465 385.5h7M468.5 382v7M476 384.5h7M479.5 381v7M465 370.5h7M468.5 367v7M475 376.5h7M478.5 373v7M463 389.5h7M466.5 386v7M466 397.5h7M469.5 394v7M460 351.5h7M463.5 348v7M458 382.5h7M461.5 379v7M466 379.5h7M469.5 376v7M460 347.5h7M463.5 344v7M466 362.5h7M469.5 359v7M467 371.5h7M470.5 368v7M463 377.5h7M466.5 374v7M457 355.5h7M460.5 352v7M469 372.5h7M472.5 369v7M464 385.5h7M467.5 382v7M471 385.5h7M474.5 382v7M461 386.5h7M464.5 383v7M466 374.5h7M469.5 371v7M467 363.5h7M470.5 360v7M451 354.5h7M454.5 351v7M473 392.5h7M476.5 389v7M465 363.5h7M468.5 360v7M462 389.5h7M465.5 386v7M475 378.5h7M478.5 375v7M465 391.5h7M468.5 388v7M469 379.5h7M472.5 376v7M467 383.5h7M470.5 380v7M469 401.5h7M472.5 398v7M462 382.5h7M465.5 379v7M464 380.5h7M467.5 377v7M451 352.5h7M454.5 349v7M454 354.5h7M457.5 351v7M459 386.5h7M462.5 383v7M465 361.5h7M468.5 358v7M457 373.5h7M460.5 370v7M462 394.5h7M465.5 391v7M473 371.5h7M476.5 368v7M478 392.5h7M481.5 389v7M458 358.5h7M461.5 355v7M475 392.5h7M478.5 389v7M472 387.5h7M475.5 384v7M472 386.5h7M475.5 383v7M460 347.5h7M463.5 344v7M471 372.5h7M474.5 369v7M474 384.5h7M477.5 381v7M475 387.5h7M478.5 384v7M462 376.5h7M465.5 373v7M459 384.5h7M462.5 381v7M466 399.5h7M469.5 396v7M462 378.5h7M465.5 375v7M461 390.5h7M464.5 387v7M467 402.5h7M470.5 399v7M453 353.5h7M456.5 350v7M457 382.5h7M460.5 379v7M457 381.5h7M460.5 378v7M472 402.5h7M475.5 399v7M468 400.5h7M471.5 397v7M471 372.5h7M474.5 369v7M472 369.5h7M475.5 366v7M471 403.5h7M474.5 400v7M463 395.5h7M466.5 392v7M456 347.5h7M459.5 344v7M472 370.5h7M475.5 367v7M467 366.5h7M470.5 363v7M450 349.5h7M453.5 346v7M458 377.5h7M461.5 374v7M467 396.5h7M470.5 393v7M467 398.5h7M470.5 395v7M469 364.5h7M472.5 361v7M458 363.5h7M461.5 360v7M474 392.5h7M477.5 389v7M453 360.5h7M456.5 357v7M454 361.5h7M457.5 358v7M455 355.5h7M458.5 352v7M474 382.5h7M477.5 379v7M455 347.5h7M458.5 344v7M469 364.5h7M472.5 361v7M464 393.5h7M467.5 390v7M462 350.5h7M465.5 347v7M464 388.5h7M467.5 385v7M465 357.5h7M468.5 354v7M456 358.5h7M459.5 355v7M467 400.5h7M470.5 397v7M457 366.5h7M460.5 363v7M457 347.5h7M460.5 344v7M458 360.5h7M461.5 357v7M467 386.5h7M470.5 383v7M456 374.5h7M459.5 371v7M473 402.5h7M476.5 399v7M465 357.5h7M468.5 354v7M457 378.5h7M460.5 375v7M474 377.5h7M477.5 374v7M464 362.5h7M467.5 359v7M455 347.5h7M458.5 344v7M455 369.5h7M458.5 366v7M475 389.5h7M478.5 386v7M466 395.5h7M469.5 392v7M461 368.5h7M464.5 365v7M457 348.5h7M460.5 345v7M472 395.5h7M475.5 392v7M463 356.5h7M466.5 353v7M473 379.5h7M476.5 376v7M473 401.5h7M476.5 398v7M477 385.5h7M480.5 382v7M459 373.5h7M462.5 370v7M464 367.5h7M467.5 364v7M473 380.5h7M476.5 377v7M474 372.5h7M477.5 369v7M460 382.5h7M463.5 379v7M466 393.5h7M469.5 390v7M471 399.5h7M474.5 396v7M467 391.5h7M470.5 388v7M466 391.5h7M469.5 388v7M470 389.5h7M473.5 386v7M463 368.5h7M466.5 365v7M457 346.5h7M460.5 343v7M460 383.5h7M463.5 380v7M472 372.5h7M475.5 369v7M472 373.5h7M475.5 370v7M482 376.5h7M485.5 373v7M483 393.5h7M486.5 390v7M487 368.5h7M490.5 365v7M484 356.5h7M487.5 353v7M490 355.5h7M493.5 352v7M495 358.5h7M498.5 355v7M487 361.5h7M490.5 358v7M476 393.5h7M479.5 390v7M493 355.5h7M496.5 352v7M487 374.5h7M490.5 371v7M487 356.5h7M490.5 353v7M481 365.5h7M484.5 362v7M488 362.5h7M491.5 359v7M483 377.5h7M486.5 374v7M490 361.5h7M493.5 358v7M496 355.5h7M499.5 352v7M495 352.5h7M498.5 349v7M478 368.5h7M481.5 365v7M494 349.5h7M497.5 346v7M493 358.5h7M496.5 355v7M489 352.5h7M492.5 349v7M476 392.5h7M479.5 389v7M485 366.5h7M488.5 363v7M485 386.5h7M488.5 383v7M481 354.5h7M484.5 351v7M478 386.5h7M481.5 383v7M495 352.5h7M498.5 349v7M479 399.5h7M482.5 396v7M480 381.5h7M483.5 378v7M493 363.5h7M496.5 360v7M495 354.5h7M498.5 351v7M484 373.5h7M487.5 370v7M478 397.5h7M481.5 394v7M485 379.5h7M488.5 376v7M476 380.5h7M479.5 377v7M488 372.5h7M491.5 369v7M488 361.5h7M491.5 358v7M481 368.5h7M484.5 365v7M477 368.5h7M480.5 365v7M480 387.5h7M483.5 384v7M482 384.5h7M485.5 381v7M475 386.5h7M478.5 383v7M490 362.5h7M493.5 359v7M485 379.5h7M488.5 376v7M493 364.5h7M496.5 361v7M475 392.5h7M478.5 389v7M485 384.5h7M488.5 381v7M483 369.5h7M486.5 366v7M478 378.5h7M481.5 375v7M484 354.5h7M487.5 351v7M478 368.5h7M481.5 365v7M484 368.5h7M487.5 365v7M492 355.5h7M495.5 352v7M490 361.5h7M493.5 358v7M481 360.5h7M484.5 357v7M494 351.5h7M497.5 348v7M475 383.5h7M478.5 380v7M494 352.5h7M497.5 349v7M495 355.5h7M498.5 352v7M496 356.5h7M499.5 353v7M491 364.5h7M494.5 361v7M481 363.5h7M484.5 360v7M480 382.5h7M483.5 379v7M483 386.5h7M486.5 383v7M476 370.5h7M479.5 367v7M491 361.5h7M494.5 358v7M483 389.5h7M486.5 386v7M479 398.5h7M482.5 395v7M489 359.5h7M492.5 356v7M477 383.5h7M480.5 380v7M485 381.5h7M488.5 378v7M481 375.5h7M484.5 372v7M479 358.5h7M482.5 355v7M495 360.5h7M498.5 357v7M478 389.5h7M481.5 386v7M476 391.5h7M479.5 388v7M481 358.5h7M484.5 355v7M485 354.5h7M488.5 351v7M478 361.5h7M481.5 358v7M480 397.5h7M483.5 394v7M476 385.5h7M479.5 382v7M494 357.5h7M497.5 354v7M482 364.5h7M485.5 361v7M481 366.5h7M484.5 363v7M476 391.5h7M479.5 388v7M495 358.5h7M498.5 355v7M486 365.5h7M489.5 362v7M478 388.5h7M481.5 385v7M490 350.5h7M493.5 347v7M478 379.5h7M481.5 376v7M484 390.5h7M487.5 387v7M490 358.5h7M493.5 355v7M482 377.5h7M485.5 374v7M494 360.5h7M497.5 357v7M490 363.5h7M493.5 360v7M477 365.5h7M480.5 362v7M482 362.5h7M485.5 359v7M481 362.5h7M484.5 359v7M478 368.5h7M481.5 365v7M478 396.5h7M481.5 393v7M475 379.5h7M478.5 376v7M487 363.5h7M490.5 360v7M484 352.5h7M487.5 349v7M480 366.5h7M483.5 363v7M485 386.5h7M488.5 383v7M487 348.5h7M490.5 345v7M478 391.5h7M481.5 388v7M489 358.5h7M492.5 355v7M494 362.5h7M497.5 359v7M483 370.5h7M486.5 367v7M482 379.5h7M485.5 376v7M486 357.5h7M489.5 354v7M487 351.5h7M490.5 348v7M476 382.5h7M479.5 379v7M491 358.5h7M494.5 355v7M493 362.5h7M496.5 359v7M491 363.5h7M494.5 360v7M478 360.5h7M481.5 357v7M484 347.5h7M487.5 344v7M484 351.5h7M487.5 348v7M478 385.5h7M481.5 382v7M476 390.5h7M479.5 387v7M480 369.5h7M483.5 366v7M484 381.5h7M487.5 378v7M484 369.5h7M487.5 366v7M485 376.5h7M488.5 373v7M479 379.5h7M482.5 376v7M495 360.5h7M498.5 357v7M481 360.5h7M484.5 357v7M490 366.5h7M493.5 363v7M479 394.5h7M482.5 391v7M487 347.5h7M490.5 344v7M479 355.5h7M482.5 352v7M482 355.5h7M485.5 352v7M484 360.5h7M487.5 357v7M490 367.5h7M493.5 364v7M482 394.5h7M485.5 391v7M489 362.5h7M492.5 359v7M507 258.5h7M510.5 255v7M511 258.5h7M514.5 255v7M517 260.5h7M520.5 257v7M520 254.5h7M523.5 251v7M504 275.5h7M507.5 272v7M508 260.5h7M511.5 257v7M506 267.5h7M509.5 264v7M520 256.5h7M523.5 253v7M515 257.5h7M518.5 254v7M520 255.5h7M523.5 252v7M511 257.5h7M514.5 254v7M499 278.5h7M502.5 275v7M503 271.5h7M506.5 268v7M510 260.5h7M513.5 257v7M516 257.5h7M519.5 254v7M519 255.5h7M522.5 252v7M502 277.5h7M505.5 274v7M496 279.5h7M499.5 276v7M511 263.5h7M514.5 260v7M518 256.5h7M521.5 253v7M498 281.5h7M501.5 278v7M511 261.5h7M514.5 258v7M508 260.5h7M511.5 257v7M514 262.5h7M517.5 259v7M498 275.5h7M501.5 272v7M509 259.5h7M512.5 256v7M510 257.5h7M513.5 254v7M504 269.5h7M507.5 266v7M494 286.5h7M497.5 283v7M507 266.5h7M510.5 263v7M507 263.5h7M510.5 260v7M499 275.5h7M502.5 272v7M506 261.5h7M509.5 258v7M502 262.5h7M505.5 259v7M495 271.5h7M498.5 268v7M522 254.5h7M525.5 251v7M509 253.5h7M512.5 250v7M513 260.5h7M516.5 257v7M519 254.5h7M522.5 251v7M519 258.5h7M522.5 255v7M519 259.5h7M522.5 256v7M508 256.5h7M511.5 253v7M523 259.5h7M526.5 256v7M498 288.5h7M501.5 285v7M496 281.5h7M499.5 278v7M512 256.5h7M515.5 253v7M509 259.5h7M512.5 256v7M496 273.5h7M499.5 270v7M496 287.5h7M499.5 284v7M512 256.5h7M515.5 253v7M498 270.5h7M501.5 267v7M523 254.5h7M526.5 251v7M521 253.5h7M524.5 250v7M508 267.5h7M511.5 264v7M502 268.5h7M505.5 265v7M500 272.5h7M503.5 269v7M506 263.5h7M509.5 260v7M522 258.5h7M525.5 255v7M496 278.5h7M499.5 275v7M496 285.5h7M499.5 282v7M520 258.5h7M523.5 255v7M497 283.5h7M500.5 280v7M506 266.5h7M509.5 263v7M506 264.5h7M509.5 261v7M517 256.5h7M520.5 253v7M524 253.5h7M527.5 250v7M499 284.5h7M502.5 281v7M512 260.5h7M515.5 257v7M499 282.5h7M502.5 279v7M494 277.5h7M497.5 274v7M500 267.5h7M503.5 264v7M516 279.5h7M519.5 276v7M508 288.5h7M511.5 285v7M513 283.5h7M516.5 280v7M512 281.5h7M515.5 278v7M519 265.5h7M522.5 262v7M520 279.5h7M523.5 276v7M512 278.5h7M515.5 275v7M524 282.5h7M527.5 279v7M517 278.5h7M520.5 275v7M524 276.5h7M527.5 273v7M520 289.5h7M523.5 286v7M525 276.5h7M528.5 273v7M520 287.5h7M523.5 284v7M520 265.5h7M523.5 262v7M516 280.5h7M519.5 277v7M516 291.5h7M519.5 288v7M519 287.5h7M522.5 284v7M513 283.5h7M516.5 280v7M509 288.5h7M512.5 285v7M514 279.5h7M517.5 276v7M518 269.5h7M521.5 266v7M512 291.5h7M515.5 288v7M523 269.5h7M526.5 266v7M509 290.5h7M512.5 287v7M519 283.5h7M522.5 280v7M518 267.5h7M521.5 264v7M523 290.5h7M526.5 287v7M524 266.5h7M527.5 263v7M512 287.5h7M515.5 284v7M515 277.5h7M518.5 274v7M520 266.5h7M523.5 263v7M508 291.5h7M511.5 288v7M520 280.5h7M523.5 277v7M524 292.5h7M527.5 289v7M519 289.5h7M522.5 286v7M514 287.5h7M517.5 284v7M520 266.5h7M523.5 263v7M524 271.5h7M527.5 268v7M519 272.5h7M522.5 269v7M515 290.5h7M518.5 287v7M522 291.5h7M525.5 288v7M520 272.5h7M523.5 269v7M523 274.5h7M526.5 271v7M524 269.5h7M527.5 266v7M515 281.5h7M518.5 278v7M517 273.5h7M520.5 270v7M525 266.5h7M528.5 263v7M515 288.5h7M518.5 285v7M522 291.5h7M525.5 288v7M518 268.5h7M521.5 265v7M524 274.5h7M527.5 271v7M519 289.5h7M522.5 286v7M516 286.5h7M519.5 283v7M522 276.5h7M525.5 273v7M523 267.5h7M526.5 264v7M522 273.5h7M525.5 270v7M514 285.5h7M517.5 282v7M512 281.5h7M515.5 278v7M519 277.5h7M522.5 274v7M519 282.5h7M522.5 279v7M516 286.5h7M519.5 283v7M492 291.5h7M495.5 288v7M512 297.5h7M515.5 294v7M524 297.5h7M527.5 294v7M505 298.5h7M508.5 295v7M509 295.5h7M512.5 292v7M524 297.5h7M527.5 294v7M522 314.5h7M525.5 311v7M501 310.5h7M504.5 307v7M521 291.5h7M524.5 288v7M524 299.5h7M527.5 296v7M501 309.5h7M504.5 306v7M494 291.5h7M497.5 288v7M524 290.5h7M527.5 287v7M512 304.5h7M515.5 301v7M504 310.5h7M507.5 307v7M518 291.5h7M521.5 288v7M511 311.5h7M514.5 308v7M502 293.5h7M505.5 290v7M509 290.5h7M512.5 287v7M502 302.5h7M505.5 299v7M496 304.5h7M499.5 301v7M519 301.5h7M522.5 298v7M508 295.5h7M511.5 292v7M497 305.5h7M500.5 302v7M492 301.5h7M495.5 298v7M507 309.5h7M510.5 306v7M490 311.5h7M493.5 308v7M494 312.5h7M497.5 309v7M518 311.5h7M521.5 308v7M522 292.5h7M525.5 289v7M501 304.5h7M504.5 301v7M500 306.5h7M503.5 303v7M520 295.5h7M523.5 292v7M500 311.5h7M503.5 308v7M500 292.5h7M503.5 289v7M516 297.5h7M519.5 294v7M510 292.5h7M513.5 289v7M509 310.5h7M512.5 307v7M504 299.5h7M507.5 296v7M516 303.5h7M519.5 300v7M506 294.5h7M509.5 291v7M513 310.5h7M516.5 307v7M512 294.5h7M515.5 291v7M520 293.5h7M523.5 290v7M497 301.5h7M500.5 298v7M493 312.5h7M496.5 309v7M507 299.5h7M510.5 296v7M511 308.5h7M514.5 305v7M508 306.5h7M511.5 303v7M513 300.5h7M516.5 297v7M498 293.5h7M501.5 290v7M513 299.5h7M516.5 296v7M523 297.5h7M526.5 294v7M517 301.5h7M520.5 298v7M494 299.5h7M497.5 296v7M511 306.5h7M514.5 303v7M501 295.5h7M504.5 292v7M494 304.5h7M497.5 301v7M513 312.5h7M516.5 309v7M506 298.5h7M509.5 295v7M518 305.5h7M521.5 302v7M515 292.5h7M518.5 289v7M518 299.5h7M521.5 296v7M513 292.5h7M516.5 289v7M491 292.5h7M494.5 289v7M520 303.5h7M523.5 300v7M490 314.5h7M493.5 311v7M504 306.5h7M507.5 303v7M513 299.5h7M516.5 296v7M519 313.5h7M522.5 310v7M503 299.5h7M506.5 296v7M504 310.5h7M507.5 307v7M507 292.5h7M510.5 289v7M488 306.5h7M491.5 303v7M493 308.5h7M496.5 305v7M510 295.5h7M513.5 292v7M491 306.5h7M494.5 303v7M494 314.5h7M497.5 311v7M507 298.5h7M510.5 295v7M518 305.5h7M521.5 302v7M512 309.5h7M515.5 306v7M505 291.5h7M508.5 288v7M494 314.5h7M497.5 311v7M511 291.5h7M514.5 288v7M493 293.5h7M496.5 290v7M497 306.5h7M500.5 303v7M522 304.5h7M525.5 301v7M506 312.5h7M509.5 309v7M493 312.5h7M496.5 309v7M512 296.5h7M515.5 293v7M516 294.5h7M519.5 291v7M510 301.5h7M513.5 298v7M492 312.5h7M495.5 309v7M495 299.5h7M498.5 296v7M512 296.5h7M515.5 293v7M492 297.5h7M495.5 294v7M502 309.5h7M505.5 306v7M508 312.5h7M511.5 309v7M493 310.5h7M496.5 307v7M524 314.5h7M527.5 311v7M499 292.5h7M502.5 289v7M516 301.5h7M519.5 298v7M512 292.5h7M515.5 289v7M524 299.5h7M527.5 296v7M524 290.5h7M527.5 287v7M499 301.5h7M502.5 298v7M502 295.5h7M505.5 292v7M524 303.5h7M527.5 300v7M523 302.5h7M526.5 299v7M517 305.5h7M520.5 302v7M493 307.5h7M496.5 304v7M516 307.5h7M519.5 304v7M506 291.5h7M509.5 288v7M519 313.5h7M522.5 310v7M490 291.5h7M493.5 288v7M504 308.5h7M507.5 305v7M505 310.5h7M508.5 307v7M521 304.5h7M524.5 301v7M511 305.5h7M514.5 302v7M502 295.5h7M505.5 292v7M522 296.5h7M525.5 293v7M519 302.5h7M522.5 299v7M515 309.5h7M518.5 306v7M521 310.5h7M524.5 307v7M500 310.5h7M503.5 307v7M520 305.5h7M523.5 302v7M495 314.5h7M498.5 311v7M518 299.5h7M521.5 296v7M499 310.5h7M502.5 307v7M512 299.5h7M515.5 296v7M522 314.5h7M525.5 311v7M513 310.5h7M516.5 307v7M510 297.5h7M513.5 294v7M518 307.5h7M521.5 304v7M521 298.5h7M524.5 295v7M523 307.5h7M526.5 304v7M516 310.5h7M519.5 307v7M505 310.5h7M508.5 307v7M521 313.5h7M524.5 310v7M510 291.5h7M513.5 288v7M497 295.5h7M500.5 292v7M493 299.5h7M496.5 296v7M510 314.5h7M513.5 311v7M491 313.5h7M494.5 310v7M508 309.5h7M511.5 306v7M519 298.5h7M522.5 295v7M491 349.5h7M494.5 346v7M497 313.5h7M500.5 310v7M496 328.5h7M499.5 325v7M498 315.5h7M501.5 312v7M490 332.5h7M493.5 329v7M496 330.5h7M499.5 327v7M496 322.5h7M499.5 319v7M493 329.5h7M496.5 326v7M489 321.5h7M492.5 318v7M488 320.5h7M491.5 317v7M492 323.5h7M495.5 320v7M495 317.5h7M498.5 314v7M490 351.5h7M493.5 348v7M493 320.5h7M496.5 317v7M496 314.5h7M499.5 311v7M490 318.5h7M493.5 315v7M492 331.5h7M495.5 328v7M496 324.5h7M499.5 321v7M492 339.5h7M495.5 336v7M498 314.5h7M501.5 311v7M493 322.5h7M496.5 319v7M495 319.5h7M498.5 316v7M495 333.5h7M498.5 330v7M498 316.5h7M501.5 313v7M493 330.5h7M496.5 327v7M496 329.5h7M499.5 326v7M491 324.5h7M494.5 321v7M498 316.5h7M501.5 313v7M488 338.5h7M491.5 335v7M491 333.5h7M494.5 330v7M495 320.5h7M498.5 317v7M495 330.5h7M498.5 327v7M491 325.5h7M494.5 322v7M491 330.5h7M494.5 327v7M491 348.5h7M494.5 345v7M495 319.5h7M498.5 316v7M488 332.5h7M491.5 329v7M492 336.5h7M495.5 333v7M494 324.5h7M497.5 321v7M496 326.5h7M499.5 323v7M488 319.5h7M491.5 316v7M494 331.5h7M497.5 328v7M503 335.5h7M506.5 332v7M516 329.5h7M519.5 326v7M521 326.5h7M524.5 323v7M517 326.5h7M520.5 323v7M499 338.5h7M502.5 335v7M523 317.5h7M526.5 314v7M506 334.5h7M509.5 331v7M509 337.5h7M512.5 334v7M518 316.5h7M521.5 313v7M507 336.5h7M510.5 333v7M499 336.5h7M502.5 333v7M524 316.5h7M527.5 313v7M522 321.5h7M525.5 318v7M502 340.5h7M505.5 337v7M515 326.5h7M518.5 323v7M498 339.5h7M501.5 336v7M517 327.5h7M520.5 324v7M506 338.5h7M509.5 335v7M513 333.5h7M516.5 330v7M520 316.5h7M523.5 313v7M522 316.5h7M525.5 313v7M500 338.5h7M503.5 335v7M517 319.5h7M520.5 316v7M515 325.5h7M518.5 322v7M509 334.5h7M512.5 331v7M514 330.5h7M517.5 327v7M521 322.5h7M524.5 319v7M524 314.5h7M527.5 311v7M519 318.5h7M522.5 315v7M508 337.5h7M511.5 334v7M503 337.5h7M506.5 334v7M522 319.5h7M525.5 316v7M497 340.5h7M500.5 337v7M519 326.5h7M522.5 323v7M507 337.5h7M510.5 334v7M520 325.5h7M523.5 322v7M512 334.5h7M515.5 331v7M507 338.5h7M510.5 335v7M516 325.5h7M519.5 322v7M517 315.5h7M520.5 312v7M514 334.5h7M517.5 331v7M515 328.5h7M518.5 325v7M520 313.5h7M523.5 310v7M518 333.5h7M521.5 330v7M516 340.5h7M519.5 337v7M522 325.5h7M525.5 322v7M513 345.5h7M516.5 342v7M504 343.5h7M507.5 340v7M523 327.5h7M526.5 324v7M514 341.5h7M517.5 338v7M504 346.5h7M507.5 343v7M519 336.5h7M522.5 333v7M508 341.5h7M511.5 338v7M511 340.5h7M514.5 337v7M511 337.5h7M514.5 334v7M524 329.5h7M527.5 326v7M504 353.5h7M507.5 350v7M500 347.5h7M503.5 344v7M505 346.5h7M508.5 343v7M503 354.5h7M506.5 351v7M506 351.5h7M509.5 348v7M523 331.5h7M526.5 328v7M513 338.5h7M516.5 335v7M523 323.5h7M526.5 320v7M509 349.5h7M512.5 346v7M523 331.5h7M526.5 328v7M501 353.5h7M504.5 350v7M512 338.5h7M515.5 335v7M526 322.5h7M529.5 319v7M498 361.5h7M501.5 358v7M514 335.5h7M517.5 332v7M498 354.5h7M501.5 351v7M486 360.5h7M489.5 357v7M524 324.5h7M527.5 321v7M503 349.5h7M506.5 346v7M494 362.5h7M497.5 359v7M498 357.5h7M501.5 354v7M518 338.5h7M521.5 335v7M513 341.5h7M516.5 338v7M497 358.5h7M500.5 355v7M487 359.5h7M490.5 356v7M503 355.5h7M506.5 352v7M513 339.5h7M516.5 336v7M515 337.5h7M518.5 334v7M509 340.5h7M512.5 337v7M524 323.5h7M527.5 320v7M494 354.5h7M497.5 351v7M511 348.5h7M514.5 345v7M520 333.5h7M523.5 330v7M510 346.5h7M513.5 343v7M502 357.5h7M505.5 354v7M517 336.5h7M520.5 333v7M507 342.5h7M510.5 339v7M508 351.5h7M511.5 348v7M497 359.5h7M500.5 356v7M501 354.5h7M504.5 351v7M523 328.5h7M526.5 325v7M499 356.5h7M502.5 353v7M517 331.5h7M520.5 328v7M490 357.5h7M493.5 354v7M518 329.5h7M521.5 326v7M490 359.5h7M493.5 356v7M504 348.5h7M507.5 345v7M522 328.5h7M525.5 325v7M495 356.5h7M498.5 353v7M513 339.5h7M516.5 336v7M495 360.5h7M498.5 357v7M498 354.5h7M501.5 351v7M501 344.5h7M504.5 341v7M505 346.5h7M508.5 343v7M517 336.5h7M520.5 333v7M501 355.5h7M504.5 352v7M497 358.5h7M500.5 355v7M512 347.5h7M515.5 344v7M508 340.5h7M511.5 337v7M512 336.5h7M515.5 333v7M500 353.5h7M503.5 350v7M501 358.5h7M504.5 355v7M488 356.5h7M491.5 353v7M515 337.5h7M518.5 334v7M520 328.5h7M523.5 325v7M504 353.5h7M507.5 350v7M496 351.5h7M499.5 348v7M495 359.5h7M498.5 356v7M520 340.5h7M523.5 337v7M490 359.5h7M493.5 356v7M523 330.5h7M526.5 327v7M493 362.5h7M496.5 359v7M506 340.5h7M509.5 337v7M486 358.5h7M489.5 355v7M503 358.5h7M506.5 355v7M509 348.5h7M512.5 345v7M501 349.5h7M504.5 346v7M517 333.5h7M520.5 330v7M503 352.5h7M506.5 349v7M519 330.5h7M522.5 327v7M513 342.5h7M516.5 339v7M485 357.5h7M488.5 354v7M504 347.5h7M507.5 344v7M502 348.5h7M505.5 345v7M513 341.5h7M516.5 338v7M496 356.5h7M499.5 353v7M523 331.5h7M526.5 328v7M494 362.5h7M497.5 359v7M516 333.5h7M519.5 330v7M512 343.5h7M515.5 340v7M522 329.5h7M525.5 326v7M508 343.5h7M511.5 340v7M510 351.5h7M513.5 348v7M491 357.5h7M494.5 354v7M494 360.5h7M497.5 357v7M510 341.5h7M513.5 338v7M502 346.5h7M505.5 343v7M519 338.5h7M522.5 335v7M489 360.5h7M492.5 357v7M496 354.5h7M499.5 351v7M521 336.5h7M524.5 333v7M489 352.5h7M492.5 349v7M509 340.5h7M512.5 337v7M508 352.5h7M511.5 349v7M506 343.5h7M509.5 340v7M507 340.5h7M510.5 337v7M496 354.5h7M499.5 351v7M491 353.5h7M494.5 350v7M504 350.5h7M507.5 347v7M522 327.5h7M525.5 324v7M522 328.5h7M525.5 325v7M512 344.5h7M515.5 341v7M485 358.5h7M488.5 355v7M511 343.5h7M514.5 340v7M503 345.5h7M506.5 342v7M508 345.5h7M511.5 342v7M498 358.5h7M501.5 355v7M487 358.5h7M490.5 355v7M522 324.5h7M525.5 321v7M496 360.5h7M499.5 357v7M510 345.5h7M513.5 342v7M506 345.5h7M509.5 342v7M508 339.5h7M511.5 336v7M516 339.5h7M519.5 336v7M517 343.5h7M520.5 340v7M495 357.5h7M498.5 354v7M514 342.5h7M517.5 339v7M508 339.5h7M511.5 336v7M494 350.5h7M497.5 347v7M516 335.5h7M519.5 332v7M522 337.5h7M525.5 334v7M513 239.5h7M516.5 236v7M513 240.5h7M516.5 237v7M513 242.5h7M516.5 239v7M513 244.5h7M516.5 241v7M513 246.5h7M516.5 243v7M514 249.5h7M517.5 246v7M514 251.5h7M517.5 248v7M524 234.5h7M527.5 231v7M524 237.5h7M527.5 234v7M524 241.5h7M527.5 238v7M524 244.5h7M527.5 241v7M524 247.5h7M527.5 244v7M524 252.5h7M527.5 249v7M524 255.5h7M527.5 252v7M495 271.5h7M498.5 268v7M521 266.5h7M524.5 263v7M521 270.5h7M524.5 267v7M523 273.5h7M526.5 270v7M500 323.5h7M503.5 320v7M499 330.5h7M502.5 327v7M534 228.5h7M537.5 225v7M534 232.5h7M537.5 229v7M534 262.5h7M537.5 259v7M534 276.5h7M537.5 273v7M534 299.5h7M537.5 296v7M534 349.5h7M537.5 346v7M534 353.5h7M537.5 350v7M553 219.5h7M556.5 216v7M551 258.5h7M554.5 255v7M558 260.5h7M561.5 257v7M552 272.5h7M555.5 269v7M556 275.5h7M559.5 272v7M556 234.5h7M559.5 231v7M551 293.5h7M554.5 290v7M551 291.5h7M554.5 288v7M555 305.5h7M558.5 302v7M555 276.5h7M558.5 273v7M550 240.5h7M553.5 237v7M552 289.5h7M555.5 286v7M555 247.5h7M558.5 244v7M550 280.5h7M553.5 277v7M556 275.5h7M559.5 272v7M554 269.5h7M557.5 266v7M550 265.5h7M553.5 262v7M552 269.5h7M555.5 266v7M551 284.5h7M554.5 281v7M552 242.5h7M555.5 239v7M549 288.5h7M552.5 285v7M558 244.5h7M561.5 241v7M553 249.5h7M556.5 246v7M555 256.5h7M558.5 253v7M552 266.5h7M555.5 263v7M552 263.5h7M555.5 260v7M551 286.5h7M554.5 283v7M556 272.5h7M559.5 269v7M552 233.5h7M555.5 230v7M551 295.5h7M554.5 292v7M552 280.5h7M555.5 277v7M557 286.5h7M560.5 283v7M554 278.5h7M557.5 275v7M552 245.5h7M555.5 242v7M555 256.5h7M558.5 253v7M553 229.5h7M556.5 226v7M552 232.5h7M555.5 229v7M556 300.5h7M559.5 297v7M558 262.5h7M561.5 259v7M552 258.5h7M555.5 255v7M556 264.5h7M559.5 261v7M552 289.5h7M555.5 286v7M550 239.5h7M553.5 236v7M552 247.5h7M555.5 244v7M553 258.5h7M556.5 255v7M551 278.5h7M554.5 275v7M554 226.5h7M557.5 223v7M553 248.5h7M556.5 245v7M553 303.5h7M556.5 300v7M555 289.5h7M558.5 286v7M556 256.5h7M559.5 253v7M555 265.5h7M558.5 262v7M556 289.5h7M559.5 286v7M552 248.5h7M555.5 245v7M557 252.5h7M560.5 249v7M551 244.5h7M554.5 241v7M557 294.5h7M560.5 291v7M551 273.5h7M554.5 270v7M558 263.5h7M561.5 260v7M552 269.5h7M555.5 266v7M550 268.5h7M553.5 265v7M554 301.5h7M557.5 298v7M552 256.5h7M555.5 253v7M557 272.5h7M560.5 269v7M554 250.5h7M557.5 247v7M556 298.5h7M559.5 295v7M557 276.5h7M560.5 273v7M550 260.5h7M553.5 257v7M550 271.5h7M553.5 268v7M555 248.5h7M558.5 245v7M557 263.5h7M560.5 260v7M556 268.5h7M559.5 265v7M557 296.5h7M560.5 293v7M554 243.5h7M557.5 240v7M549 296.5h7M552.5 293v7M551 279.5h7M554.5 276v7M554 242.5h7M557.5 239v7M556 237.5h7M559.5 234v7M556 228.5h7M559.5 225v7M552 297.5h7M555.5 294v7M554 249.5h7M557.5 246v7M558 286.5h7M561.5 283v7M550 271.5h7M553.5 268v7M556 281.5h7M559.5 278v7M553 284.5h7M556.5 281v7M551 236.5h7M554.5 233v7M555 268.5h7M558.5 265v7M555 293.5h7M558.5 290v7M556 259.5h7M559.5 256v7M550 306.5h7M553.5 303v7M552 303.5h7M555.5 300v7M552 284.5h7M555.5 281v7M552 281.5h7M555.5 278v7M555 281.5h7M558.5 278v7M557 267.5h7M560.5 264v7M552 231.5h7M555.5 228v7M552 267.5h7M555.5 264v7M552 260.5h7M555.5 257v7M554 267.5h7M557.5 264v7M551 264.5h7M554.5 261v7M550 279.5h7M553.5 276v7M558 278.5h7M561.5 275v7M550 242.5h7M553.5 239v7M551 295.5h7M554.5 292v7M557 227.5h7M560.5 224v7M554 224.5h7M557.5 221v7M555 224.5h7M558.5 221v7M557 261.5h7M560.5 258v7M550 255.5h7M553.5 252v7M549 252.5h7M552.5 249v7M554 232.5h7M557.5 229v7M556 275.5h7M559.5 272v7M551 259.5h7M554.5 256v7M555 237.5h7M558.5 234v7M553 263.5h7M556.5 260v7M557 230.5h7M560.5 227v7M550 274.5h7M553.5 271v7M549 244.5h7M552.5 241v7M550 296.5h7M553.5 293v7M552 267.5h7M555.5 264v7M554 240.5h7M557.5 237v7M552 296.5h7M555.5 293v7M556 266.5h7M559.5 263v7M550 290.5h7M553.5 287v7M555 260.5h7M558.5 257v7M553 246.5h7M556.5 243v7M556 299.5h7M559.5 296v7M556 269.5h7M559.5 266v7M551 243.5h7M554.5 240v7M553 251.5h7M556.5 248v7M554 286.5h7M557.5 283v7M552 269.5h7M555.5 266v7M554 300.5h7M557.5 297v7M556 268.5h7M559.5 265v7M552 277.5h7M555.5 274v7M557 265.5h7M560.5 262v7M554 287.5h7M557.5 284v7M552 281.5h7M555.5 278v7M550 287.5h7M553.5 284v7M555 277.5h7M558.5 274v7M554 297.5h7M557.5 294v7M555 256.5h7M558.5 253v7M556 266.5h7M559.5 263v7M551 271.5h7M554.5 268v7M556 271.5h7M559.5 268v7M553 255.5h7M556.5 252v7M552 228.5h7M555.5 225v7M555 262.5h7M558.5 259v7M553 226.5h7M556.5 223v7M558 239.5h7M561.5 236v7M551 301.5h7M554.5 298v7M551 303.5h7M554.5 300v7M555 244.5h7M558.5 241v7M555 236.5h7M558.5 233v7M557 273.5h7M560.5 270v7M555 297.5h7M558.5 294v7M552 232.5h7M555.5 229v7M555 259.5h7M558.5 256v7M552 292.5h7M555.5 289v7M550 238.5h7M553.5 235v7M554 276.5h7M557.5 273v7M548 234.5h7M551.5 231v7M548 241.5h7M551.5 238v7M549 313.5h7M552.5 310v7M551 327.5h7M554.5 324v7M551 332.5h7M554.5 329v7M551 334.5h7M554.5 331v7M551 338.5h7M554.5 335v7M556 155.5h7M559.5 152v7M556 157.5h7M559.5 154v7M556 158.5h7M559.5 155v7M555 160.5h7M558.5 157v7M557 160.5h7M560.5 157v7M557 162.5h7M560.5 159v7M557 163.5h7M560.5 160v7M558 164.5h7M561.5 161v7M558 167.5h7M561.5 164v7M428 317.5h7M431.5 314v7M427 319.5h7M430.5 316v7M426 322.5h7M429.5 319v7M425 324.5h7M428.5 321v7M425 326.5h7M428.5 323v7M425 328.5h7M428.5 325v7M423 331.5h7M426.5 328v7M422 334.5h7M425.5 331v7M422 337.5h7M425.5 334v7M422 339.5h7M425.5 336v7M423 341.5h7M426.5 338v7M423 340.5h7M426.5 337v7M421 345.5h7M424.5 342v7M421 347.5h7M424.5 344v7M421 352.5h7M424.5 349v7M423 354.5h7M426.5 351v7M420 360.5h7M423.5 357v7M420 362.5h7M423.5 359v7M423 364.5h7M426.5 361v7M420 367.5h7M423.5 364v7M428 369.5h7M431.5 366v7M426 370.5h7M429.5 367v7M429 372.5h7M432.5 369v7M428 375.5h7M431.5 372v7M430 378.5h7M433.5 375v7M431 380.5h7M434.5 377v7M432 381.5h7M435.5 378v7M431 384.5h7M434.5 381v7M432 388.5h7M435.5 385v7M441 299.5h7M444.5 296v7M429 306.5h7M432.5 303v7M437 312.5h7M440.5 309v7M438 314.5h7M441.5 311v7M407 384.5h7M410.5 381v7M409 386.5h7M412.5 383v7M411 387.5h7M414.5 384v7M408 388.5h7M411.5 385v7M410 388.5h7M413.5 385v7M412 385.5h7M415.5 382v7M406 381.5h7M409.5 378v7M409 382.5h7M412.5 379v7M413 382.5h7M416.5 379v7M400 384.5h7M403.5 381v7M447 129.5h7M450.5 126v7M446 131.5h7M449.5 128v7M447 134.5h7M450.5 131v7M446 136.5h7M449.5 133v7M446 138.5h7M449.5 135v7M445 140.5h7M448.5 137v7M445 142.5h7M448.5 139v7M443 145.5h7M446.5 142v7M443 147.5h7M446.5 144v7M441 162.5h7M444.5 159v7M439 165.5h7M442.5 162v7M441 169.5h7M444.5 166v7M439 172.5h7M442.5 169v7M440 175.5h7M443.5 172v7M437 179.5h7M440.5 176v7M437 182.5h7M440.5 179v7M320 233.5h7M323.5 230v7M322 231.5h7M325.5 228v7M319 232.5h7M322.5 229v7M106 344.5h7M109.5 341v7M104 363.5h7M107.5 360v7M107 346.5h7M110.5 343v7M428 318.5h7M431.5 315v7M427 320.5h7M430.5 317v7M427 321.5h7M430.5 318v7M426 323.5h7M429.5 320v7M426 324.5h7M429.5 321v7M425 326.5h7M428.5 323v7M425 328.5h7M428.5 325v7M423 329.5h7M426.5 326v7M422 331.5h7M425.5 328v7M424 332.5h7M427.5 329v7M422 334.5h7M425.5 331v7M421 336.5h7M424.5 333v7M422 337.5h7M425.5 334v7M422 338.5h7M425.5 335v7M421 340.5h7M424.5 337v7M429 283.5h7M432.5 280v7M431 285.5h7M434.5 282v7M428 287.5h7M431.5 284v7M430 289.5h7M433.5 286v7M427 290.5h7M430.5 287v7M432 282.5h7M435.5 279v7M392 189.5h7M395.5 186v7M391 185.5h7M394.5 182v7M394 191.5h7M397.5 188v7M390 189.5h7M393.5 186v7M391 184.5h7M394.5 181v7M392 185.5h7M395.5 182v7M390 196.5h7M393.5 193v7M394 194.5h7M397.5 191v7M393 187.5h7M396.5 184v7M391 193.5h7M394.5 190v7M393 195.5h7M396.5 192v7M394 191.5h7M397.5 188v7M393 195.5h7M396.5 192v7M392 187.5h7M395.5 184v7M392 228.5h7M395.5 225v7M392 219.5h7M395.5 216v7M393 226.5h7M396.5 223v7M393 226.5h7M396.5 223v7M388 226.5h7M391.5 223v7M395 227.5h7M398.5 224v7M393 217.5h7M396.5 214v7M393 217.5h7M396.5 214v7M395 216.5h7M398.5 213v7M390 227.5h7M393.5 224v7M389 218.5h7M392.5 215v7M389 227.5h7M392.5 224v7M393 217.5h7M396.5 214v7M392 224.5h7M395.5 221v7M392 227.5h7M395.5 224v7" stroke="#f00" stroke-width="1" fill="none" shape-rendering="crispEdges"/>
</svg></body></html>
